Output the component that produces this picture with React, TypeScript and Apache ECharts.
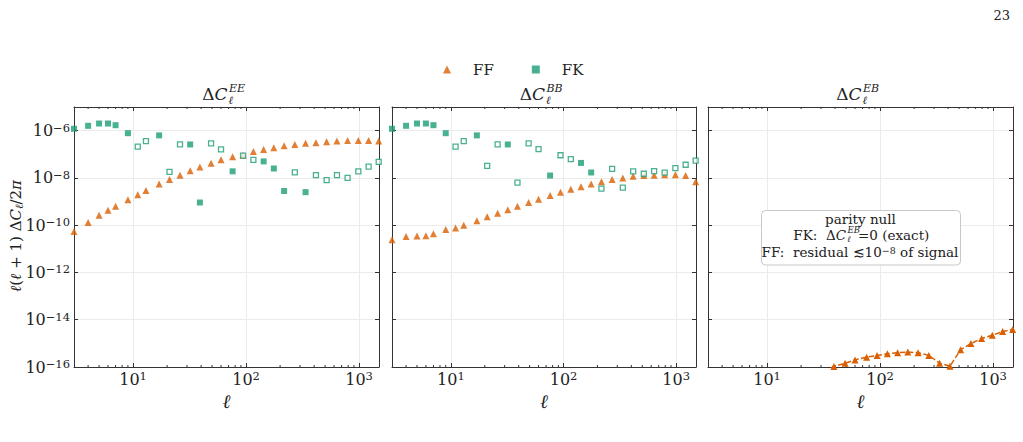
import { useEffect, useRef } from 'react';
import * as echarts from 'echarts';

// Multipoles sampled by every curve
const ELL = [3, 4, 5, 6, 7, 9, 11, 13, 17, 21, 26, 32, 39, 49, 60, 76, 94, 116, 143, 176, 217, 270, 336, 415, 516, 637, 791, 984, 1214, 1490];

// ℓ(ℓ+1) ΔC_ℓ / 2π — EE
const FF_EE = [5.4e-11, 1.3e-10, 2.6e-10, 4.3e-10, 6.3e-10, 1.2e-9, 1.95e-9, 2.9e-9, 5.5e-9, 8.5e-9, 1.3e-8, 2.0e-8, 2.9e-8, 4.2e-8, 5.8e-8, 7.8e-8, 9.1e-8, 1.3e-7, 1.6e-7, 1.9e-7, 2.3e-7, 2.6e-7, 2.9e-7, 3.1e-7, 3.4e-7, 3.6e-7, 3.8e-7, 3.8e-7, 3.8e-7, 3.6e-7];
// signed: negative entries are shown as open squares (|value|)
const FK_EE = [1.2e-6, 1.6e-6, 2.0e-6, 2.0e-6, 1.7e-6, 7.8e-7, -2.1e-7, -3.6e-7, 6.3e-7, -1.8e-8, -2.6e-7, 2.6e-7, 9.1e-10, -2.9e-7, -1.6e-7, 1.9e-8, -8.7e-8, -5.8e-8, 5.0e-8, 2.5e-8, 2.8e-9, -1.7e-8, 2.5e-9, -1.3e-8, -8.1e-9, -1.3e-8, -1.0e-8, -1.9e-8, -3.0e-8, -4.8e-8];

// BB
const FF_BB = [2.4e-11, 3.3e-11, 3.5e-11, 3.6e-11, 4.3e-11, 6.5e-11, 7.6e-11, 1.0e-10, 1.55e-10, 2.3e-10, 3.2e-10, 4.5e-10, 6.3e-10, 9.1e-10, 1.26e-9, 1.8e-9, 2.5e-9, 3.3e-9, 4.2e-9, 5.5e-9, 6.8e-9, 8.5e-9, 1.0e-8, 1.17e-8, 1.26e-8, 1.3e-8, 1.35e-8, 1.35e-8, 1.26e-8, 6.8e-9];
const FK_BB = [1.2e-6, 1.6e-6, 2.0e-6, 2.0e-6, 1.7e-6, 7.8e-7, -2.1e-7, -3.6e-7, 6.3e-7, -3.2e-8, -2.6e-7, 2.6e-7, -6.3e-9, -2.9e-7, -1.66e-7, 1.26e-8, -9.1e-8, -6.2e-8, 4.3e-8, 1.7e-8, -3.5e-9, -2.4e-8, -3.9e-9, -1.9e-8, -1.5e-8, -1.95e-8, -1.66e-8, -2.6e-8, -3.6e-8, -5.4e-8];

// EB (FF residual only; FK is identically zero)
const ELL_EB = [32, 39, 49, 60, 76, 94, 116, 143, 176, 217, 270, 336, 415, 516, 637, 791, 984, 1214, 1490];
const FF_EB = [6e-17, 1.05e-16, 1.45e-16, 2.0e-16, 2.6e-16, 3.1e-16, 3.6e-16, 4.0e-16, 4.3e-16, 4.0e-16, 3.1e-16, 1.45e-16, 1.08e-16, 5.4e-16, 9.8e-16, 1.6e-15, 2.2e-15, 3.2e-15, 3.9e-15];

// Axis ranges and minor tick positions
const X_MIN = 3;
const X_MAX = 1500;
const Y_EXP_MIN = -16;
const Y_EXP_MAX = -5;
const MINOR_TICKS = [4, 5, 6, 7, 8, 9, 20, 30, 40, 50, 60, 70, 80, 90, 200, 300, 400, 500, 600, 700, 800, 900];

const PANEL_KEYS = ['EE', 'BB', 'EB'];

const ORANGE = '#d95f02';
const GREEN = '#1b9e77';
const INK = '#222';
const FRAME = '#333';
const SERIF = 'DejaVu Serif';

const lg = (v: number) => Math.log10(Math.abs(v));

const GRIDS = [
  { left: 74, top: 107, width: 305, height: 260 },
  { left: 392, top: 107, width: 304, height: 260 },
  { left: 708, top: 107, width: 305, height: 260 },
];

const tickRich = {
  b: { fontSize: 16, fontFamily: SERIF, color: INK, lineHeight: 18 },
  s: { fontSize: 11.5, fontFamily: SERIF, color: INK, lineHeight: 11, verticalAlign: 'top' },
};

function xLabel(v: number) {
  const e = Math.log10(v);
  const r = Math.round(e);
  return Math.abs(e - r) < 1e-6 ? `{b|10}{s|${r}}` : '';
}

function yLabel(v: number) {
  const r = Math.round(v);
  if (Math.abs(v - r) > 1e-9 || r % 2 !== 0) return '';
  return `{b|10}{s|${r < 0 ? '−' + Math.abs(r) : r}}`;
}

function buildOption() {
  const xAxis: any[] = [];
  const yAxis: any[] = [];
  const series: any[] = [];

  GRIDS.forEach((_, p) => {
    const common = {
      gridIndex: p,
      type: 'log',
      logBase: 10,
      min: X_MIN,
      max: X_MAX,
      axisLine: { show: true, onZero: false, lineStyle: { color: FRAME, width: 1 } },
      axisTick: { show: true, inside: true, length: 4, lineStyle: { color: FRAME } },
    };
    xAxis.push({
      ...common,
      position: 'bottom',
      splitLine: { show: true, lineStyle: { color: '#ebebeb', width: 1 } },
      axisLabel: { show: true, margin: 3, formatter: xLabel, rich: tickRich },
      name: 'ℓ',
      nameLocation: 'middle',
      nameGap: 15,
      nameTextStyle: { fontFamily: SERIF, fontStyle: 'italic', fontSize: 19, color: INK },
    });
    xAxis.push({ ...common, position: 'top', splitLine: { show: false }, axisLabel: { show: false } });

    const yCommon = {
      gridIndex: p,
      type: 'value',
      min: Y_EXP_MIN,
      max: Y_EXP_MAX,
      interval: 2,
      axisLine: { show: true, onZero: false, lineStyle: { color: FRAME, width: 1 } },
      axisTick: { show: true, inside: true, length: 4, lineStyle: { color: FRAME } },
    };
    yAxis.push({
      ...yCommon,
      position: 'left',
      splitLine: { show: true, lineStyle: { color: '#ebebeb', width: 1 } },
      axisLabel: { show: p === 0, margin: 4, formatter: yLabel, rich: tickRich },
    });
    yAxis.push({ ...yCommon, position: 'right', splitLine: { show: false }, axisLabel: { show: false } });

    const xi = 2 * p;
    const yi = 2 * p;

    // minor log ticks on the bottom and top edges
    series.push({
      type: 'custom',
      name: 'minor ticks',
      xAxisIndex: xi,
      yAxisIndex: yi,
      silent: true,
      clip: false,
      z: 1,
      data: MINOR_TICKS.map((v) => [v, Y_EXP_MIN]),
      renderItem: (params: any, api: any) => {
        const x = api.coord([api.value(0), api.value(1)])[0];
        const cs = params.coordSys;
        const top = cs.y;
        const bottom = cs.y + cs.height;
        return {
          type: 'group',
          children: [
            { type: 'line', shape: { x1: x, y1: bottom, x2: x, y2: bottom - 2 }, style: { stroke: FRAME, lineWidth: 1 } },
            { type: 'line', shape: { x1: x, y1: top, x2: x, y2: top + 2 }, style: { stroke: FRAME, lineWidth: 1 } },
          ],
        };
      },
    });

    if (p < 2) {
      const ff = p === 0 ? FF_EE : FF_BB;
      const fk = p === 0 ? FK_EE : FK_BB;
      series.push({
        type: 'scatter',
        name: 'FF',
        xAxisIndex: xi,
        yAxisIndex: yi,
        symbol: 'triangle',
        symbolSize: 7,
        itemStyle: { color: ORANGE },
        data: ELL.map((l, i) => [l, lg(ff[i])]),
        z: 3,
      });
      series.push({
        type: 'scatter',
        name: 'FK',
        xAxisIndex: xi,
        yAxisIndex: yi,
        symbol: 'rect',
        symbolSize: 6,
        itemStyle: { color: GREEN },
        data: ELL.map((l, i) => [l, fk[i]] as [number, number]).filter((d) => d[1] > 0).map((d) => [d[0], lg(d[1])]),
        z: 4,
      });
      series.push({
        type: 'scatter',
        name: 'FK < 0',
        xAxisIndex: xi,
        yAxisIndex: yi,
        symbol: 'rect',
        symbolSize: 5,
        itemStyle: { color: '#ffffff', borderColor: GREEN, borderWidth: 1.3 },
        data: ELL.map((l, i) => [l, fk[i]] as [number, number]).filter((d) => d[1] < 0).map((d) => [d[0], lg(d[1])]),
        z: 4,
      });
    } else {
      series.push({
        type: 'line',
        name: 'FF',
        xAxisIndex: xi,
        yAxisIndex: yi,
        symbol: 'triangle',
        symbolSize: 7,
        showSymbol: true,
        clip: true,
        itemStyle: { color: ORANGE },
        lineStyle: { color: ORANGE, width: 1.5, type: [5.5, 2.4] },
        data: ELL_EB.map((l, i) => [l, lg(FF_EB[i])]),
        z: 3,
      });
    }
  });

  const graphic: any[] = [];

  // page number
  graphic.push({
    type: 'text', x: 1010, y: 15,
    style: { text: '23', fontFamily: SERIF, fontSize: 13, fill: INK, align: 'right', verticalAlign: 'middle' },
  });

  // panel titles ΔC_ℓ^{XY}
  GRIDS.forEach((g, p) => {
    const anchor = g.left + g.width / 2 + 1;
    graphic.push({
      type: 'text', x: anchor, y: 94,
      style: {
        text: '{r|Δ}{i|C}',
        rich: {
          r: { fontFamily: SERIF, fontSize: 17, fill: INK },
          i: { fontFamily: SERIF, fontSize: 17, fontStyle: 'italic', fill: INK },
        },
        align: 'right', verticalAlign: 'middle',
      },
    });
    graphic.push({
      type: 'text', x: anchor + 1.5, y: 88,
      style: { text: PANEL_KEYS[p], fontFamily: SERIF, fontStyle: 'italic', fontSize: 11, fill: INK, align: 'left', verticalAlign: 'middle' },
    });
    graphic.push({
      type: 'text', x: anchor + 1, y: 100,
      style: { text: 'ℓ', fontFamily: SERIF, fontStyle: 'italic', fontSize: 11, fill: INK, align: 'left', verticalAlign: 'middle' },
    });
  });

  // shared y-axis title
  graphic.push({
    type: 'text', x: 16, y: 236, rotation: Math.PI / 2,
    style: {
      text: '{i|ℓ}{r|(}{i|ℓ}{r| + 1) Δ}{i|C}{s|ℓ}{r|/2}{i|π}',
      rich: {
        r: { fontFamily: SERIF, fontSize: 15, fill: INK, lineHeight: 18 },
        i: { fontFamily: SERIF, fontSize: 15, fontStyle: 'italic', fill: INK, lineHeight: 18 },
        s: { fontFamily: SERIF, fontSize: 11, fontStyle: 'italic', fill: INK, lineHeight: 11, verticalAlign: 'bottom' },
      },
      align: 'center', verticalAlign: 'middle',
    },
  });

  // annotation box in the EB panel (drawn above the grid lines)
  const boxFont = { fontFamily: SERIF, fontSize: 13.5, fill: INK };
  const boxZ = 100;
  graphic.push({
    type: 'rect', z: boxZ, shape: { x: 761.5, y: 210.5, width: 199, height: 54.5, r: 4 },
    style: { fill: 'rgba(255,255,255,0.96)', stroke: '#c8c8c8', lineWidth: 1 },
  });
  graphic.push({
    type: 'text', z: boxZ + 1, x: 860.5, y: 219,
    style: { ...boxFont, text: 'parity null', align: 'center', verticalAlign: 'middle' },
  });
  const a2 = 846;
  graphic.push({
    type: 'text', z: boxZ + 1, x: a2, y: 235,
    style: {
      text: '{r|FK:  Δ}{i|C}',
      rich: { r: { ...boxFont }, i: { ...boxFont, fontStyle: 'italic' } },
      align: 'right', verticalAlign: 'middle',
    },
  });
  graphic.push({
    type: 'text', z: boxZ + 1, x: a2 + 1.5, y: 230,
    style: { fontFamily: SERIF, fontSize: 8.5, fontStyle: 'italic', fill: INK, text: 'EB', align: 'left', verticalAlign: 'middle' },
  });
  graphic.push({
    type: 'text', z: boxZ + 1, x: a2 + 1, y: 238.5,
    style: { fontFamily: SERIF, fontSize: 8.5, fontStyle: 'italic', fill: INK, text: 'ℓ', align: 'left', verticalAlign: 'middle' },
  });
  graphic.push({
    type: 'text', z: boxZ + 1, x: a2 + 12, y: 235,
    style: { ...boxFont, text: '=0 (exact)', align: 'left', verticalAlign: 'middle' },
  });
  graphic.push({
    type: 'text', z: boxZ + 1, x: 860, y: 251.5,
    style: {
      text: '{r|FF:  residual ≲10}{s|−8}{r| of signal}',
      rich: {
        r: { ...boxFont, lineHeight: 13 },
        s: { fontFamily: SERIF, fontSize: 9.5, fill: INK, lineHeight: 9, verticalAlign: 'top' },
      },
      align: 'center', verticalAlign: 'middle',
    },
  });

  return {
    animation: false,
    backgroundColor: '#ffffff',
    textStyle: { fontFamily: SERIF },
    grid: GRIDS.map((g) => ({ ...g, containLabel: false })),
    legend: {
      data: ['FF', 'FK'],
      left: 443,
      top: 62,
      padding: 0,
      itemWidth: 8,
      itemHeight: 8,
      itemGap: 38,
      selectedMode: false,
      formatter: (name: string) => `{g|}{t|${name}}`,
      textStyle: {
        fontFamily: SERIF,
        fontSize: 15,
        color: INK,
        rich: {
          g: { width: 17 },
          t: { fontFamily: SERIF, fontSize: 15, color: INK },
        },
      },
    },
    xAxis,
    yAxis,
    series,
    graphic,
  };
}

export default function App() {
  const ref = useRef<HTMLDivElement>(null);
  useEffect(() => {
    if (!ref.current) return;
    const chart = echarts.init(ref.current, undefined, { renderer: 'svg' });
    chart.setOption(buildOption() as any);
    return () => chart.dispose();
  }, []);
  return <div ref={ref} style={{ position: 'absolute', left: 0, top: 0, width: 1023, height: 442 }} />;
}
